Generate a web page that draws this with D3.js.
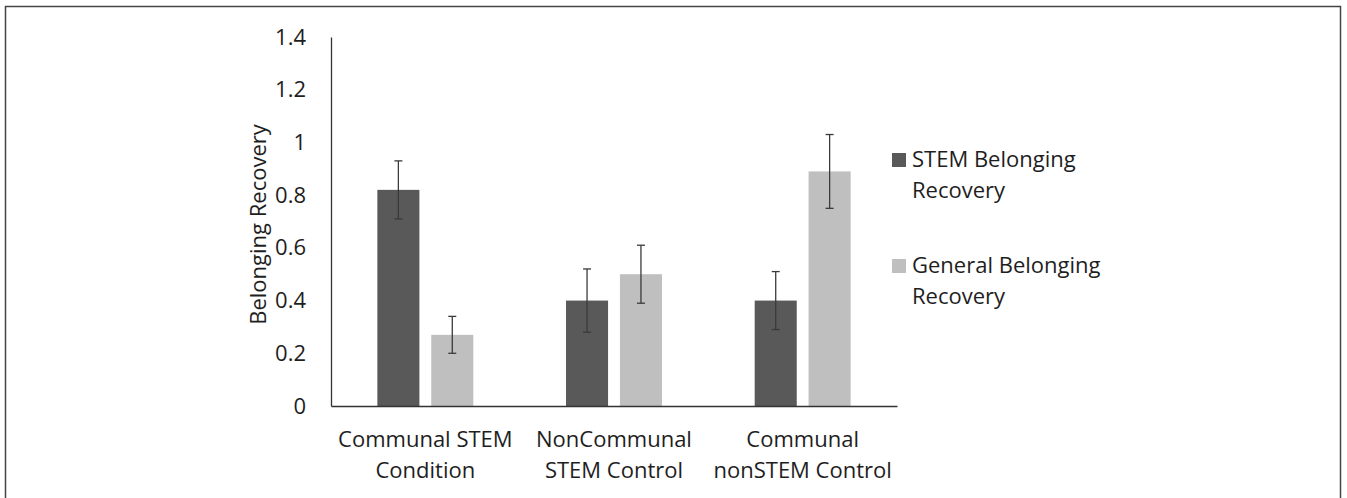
<!DOCTYPE html>
<html>
<head>
<meta charset="utf-8">
<script src="https://cdn.jsdelivr.net/npm/d3@7"></script>
<style>
  body { margin: 0; background: #fff; }
  text { font-family: "Open Sans", sans-serif; fill: #1e1e1e; }
</style>
</head>
<body>
<div id="chart"></div>
<script>
const width = 1347,
height = 498;

const categories = [["Communal STEM", "Condition"], ["NonCommunal", "STEM Control"], ["Communal", "nonSTEM Control"]]
const series = [["STEM Belonging", "Recovery"], ["General Belonging", "Recovery"]]
const stemValues = [0.82, 0.40, 0.40]
const stemErrors = [0.11, 0.12, 0.11]
const generalValues = [0.27, 0.50, 0.89]
const generalErrors = [0.07, 0.11, 0.14]
const yTicks = [0, 0.2, 0.4, 0.6, 0.8, 1, 1.2, 1.4]

const colors = ["#595959", "#bfbfbf"]
const margin = {top: 37, left: 331, right: 450, bottom: 92}
const fontSize = "22px"

const svg = d3.select("#chart")
            .append("svg")
            .attr("width", width)
            .attr("height", height)

// frame
svg.append("rect")
  .attr("x", 5.5).attr("y", 6.5)
  .attr("width", 1335).attr("height", 520)
  .attr("fill", "none")
  .attr("stroke", "#444")
  .attr("stroke-width", 1.5)

const catKeys = categories.map(d => d.join(" "))
const x0 = d3.scaleBand()
            .domain(catKeys)
            .range([margin.left, width - margin.right])
const x1 = d3.scaleBand()
            .domain([0, 1])
            .range([0, x0.bandwidth()])
            .paddingInner(0.22)
            .paddingOuter(0.86)
const y = d3.scaleLinear()
            .domain([0, 1.4])
            .range([height - margin.bottom, margin.top])

// y axis
const yAxis = svg.append("g")
  .attr("transform", `translate(${margin.left},0)`)
  .call(d3.axisLeft(y).tickValues(yTicks).tickSize(0).tickPadding(25).tickFormat(d3.format("~g")))
yAxis.select(".domain").attr("stroke", "#333").attr("stroke-width", 1.3)
yAxis.selectAll("text").style("font-size", fontSize).style("font-family", "Open Sans").attr("fill", "#1e1e1e")

// bars
const rows = catKeys.map((c, i) => ({cat: c, vals: [
  {s: 0, v: stemValues[i], e: stemErrors[i]},
  {s: 1, v: generalValues[i], e: generalErrors[i]}
]}))

const groups = svg.selectAll("g.grp")
  .data(rows)
  .join("g")
  .attr("class", "grp")
  .attr("transform", d => `translate(${x0(d.cat)},0)`)

groups.selectAll("rect")
  .data(d => d.vals)
  .join("rect")
  .attr("x", d => x1(d.s))
  .attr("y", d => y(d.v))
  .attr("width", x1.bandwidth())
  .attr("height", d => y(0) - y(d.v))
  .attr("fill", d => colors[d.s])

// error bars
const err = groups.selectAll("g.err")
  .data(d => d.vals)
  .join("g")
  .attr("class", "err")
  .attr("stroke", "#3a3a3a")
  .attr("stroke-width", 1.3)
err.append("line")
  .attr("x1", d => x1(d.s) + x1.bandwidth() / 2)
  .attr("x2", d => x1(d.s) + x1.bandwidth() / 2)
  .attr("y1", d => y(d.v - d.e))
  .attr("y2", d => y(d.v + d.e))
err.selectAll("line.cap")
  .data(d => [d.v - d.e, d.v + d.e].map(v => ({s: d.s, v})))
  .join("line")
  .attr("class", "cap")
  .attr("x1", d => x1(d.s) + x1.bandwidth() / 2 - 4)
  .attr("x2", d => x1(d.s) + x1.bandwidth() / 2 + 4)
  .attr("y1", d => y(d.v))
  .attr("y2", d => y(d.v))

// x axis
const xAxis = svg.append("g")
  .attr("transform", `translate(0,${y(0)})`)
  .call(d3.axisBottom(x0).tickSize(0).tickFormat(""))
xAxis.select(".domain").attr("stroke", "#333").attr("stroke-width", 1.3)

// category labels
svg.selectAll("text.cat")
  .data(categories)
  .join("text")
  .attr("class", "cat")
  .attr("text-anchor", "middle")
  .style("font-size", fontSize)
  .attr("x", (d, i) => x0(catKeys[i]) + x0.bandwidth() / 2)
  .attr("y", y(0) + 41)
  .selectAll("tspan")
  .data(d => d)
  .join("tspan")
  .attr("x", function() { return d3.select(this.parentNode).attr("x") })
  .attr("dy", (d, i) => i === 0 ? 0 : 31)
  .text(d => d)

// y title
svg.append("text")
  .attr("transform", `translate(266,${(y(0) + y(1.4)) / 2 + 3}) rotate(-90)`)
  .attr("text-anchor", "middle")
  .style("font-size", fontSize)
  .text("Belonging Recovery")

// legend
const legend = svg.selectAll("g.leg")
  .data(series)
  .join("g")
  .attr("class", "leg")
  .attr("transform", (d, i) => `translate(892,${153 + i * 106})`)
legend.append("rect")
  .attr("width", 14).attr("height", 14)
  .attr("fill", (d, i) => colors[i])
legend.append("text")
  .style("font-size", fontSize)
  .attr("y", 14)
  .selectAll("tspan")
  .data(d => d)
  .join("tspan")
  .attr("x", 20)
  .attr("dy", (d, i) => i === 0 ? 0 : 31)
  .text(d => d)
</script>
</body>
</html>
